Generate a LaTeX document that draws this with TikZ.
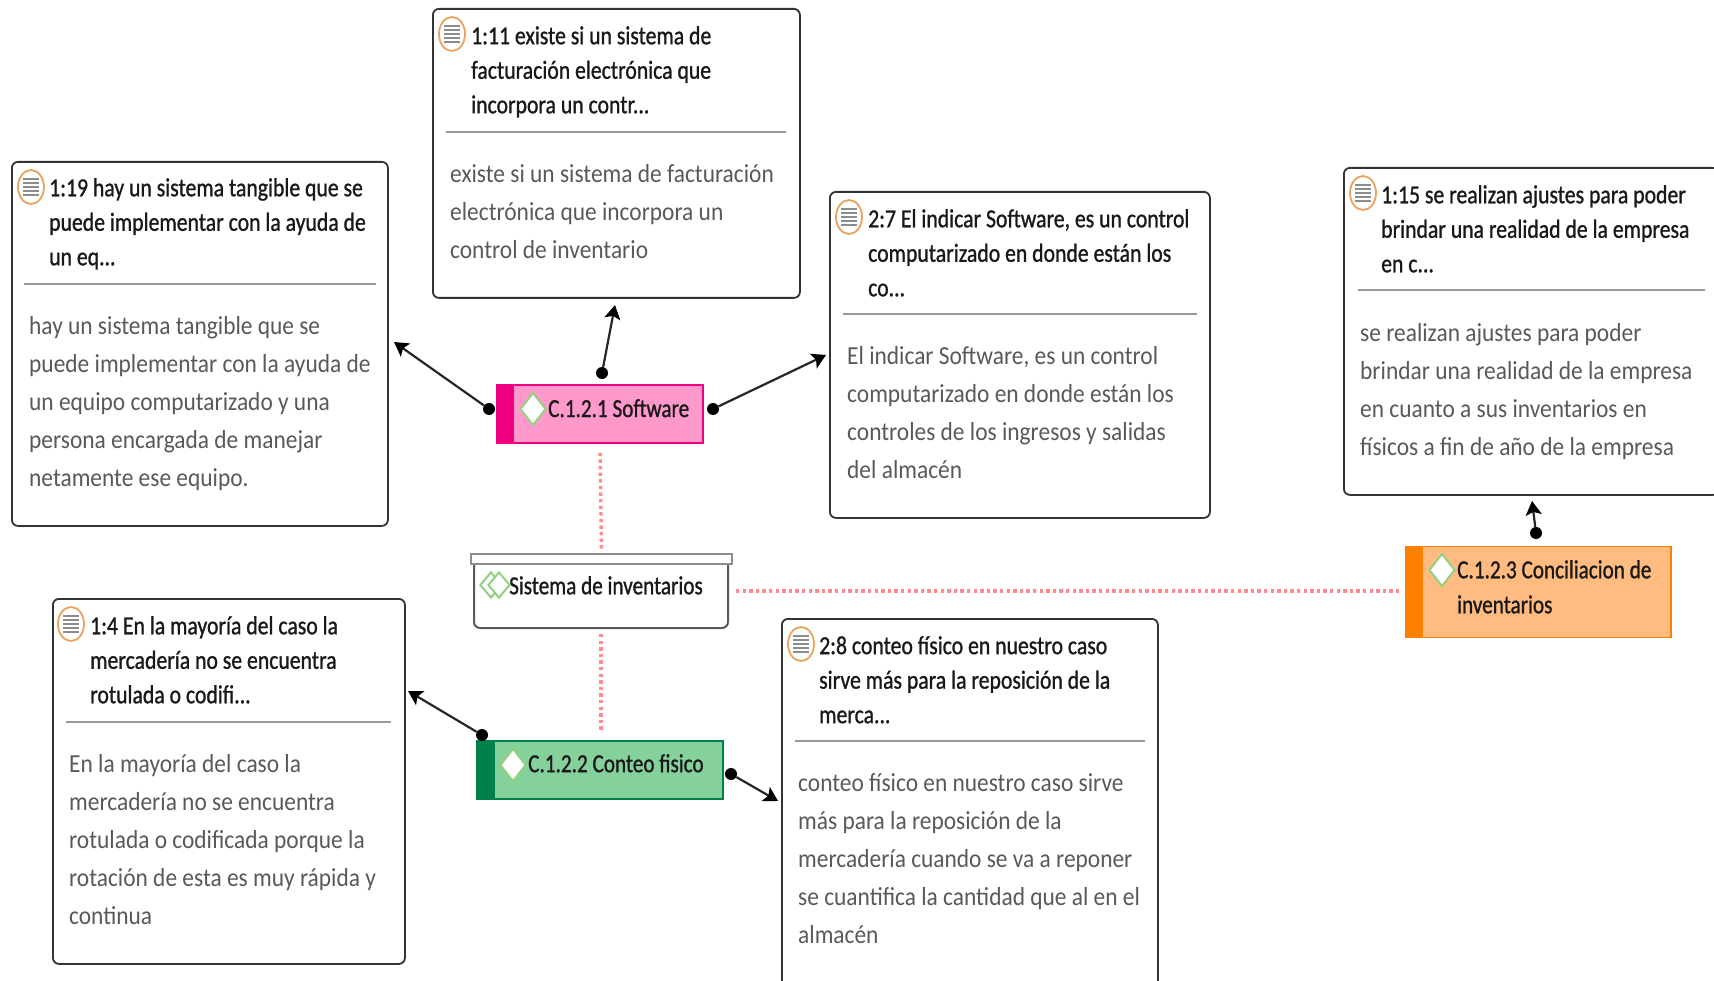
\documentclass[tikz,border=0pt]{standalone}
\usepackage{fontspec}
\setmainfont{Carlito}
\newfontfamily\titlefont[FakeStretch=0.835,FakeBold=1]{Carlito}
\newfontfamily\bodyfont[FakeStretch=0.90]{Carlito}
\newfontfamily\codefont[FakeStretch=0.815,FakeBold=1]{Carlito}
\usetikzlibrary{arrows.meta,shapes.geometric}
\definecolor{softfill}{HTML}{FF99CC}
\definecolor{softband}{HTML}{F0007F}
\definecolor{contfill}{HTML}{85D19B}
\definecolor{contband}{HTML}{00804A}
\definecolor{concfill}{HTML}{FFBB80}
\definecolor{concband}{HTML}{FF8000}
\definecolor{markgreen}{HTML}{93D07F}
\definecolor{dotred}{HTML}{FF8A8F}
\definecolor{noteorange}{HTML}{EBA25C}
\tikzset{
  quotebox/.style={draw=black!80,line width=1.8pt,rounded corners=6pt,fill=white,inner sep=0pt,anchor=north west},
  quotetitle/.style={anchor=north west,inner sep=0pt,align=left,text=black!90,font=\titlefont\fontsize{26}{34.5}\selectfont},
  quotebody/.style={anchor=north west,inner sep=0pt,align=left,text=black!65,font=\bodyfont\fontsize{26}{38}\selectfont},
  sepline/.style={draw=black!40,line width=1.6pt},
  codebox/.style={rectangle,draw,line width=1.6pt,inner sep=0pt},
  codetext/.style={anchor=north west,inner sep=0pt,align=left,text=black!90,font=\codefont\fontsize{26}{35}\selectfont},
  codemark/.style={diamond,draw=markgreen,fill=white,line width=2pt,inner sep=0pt,minimum width=26pt,minimum height=33pt},
  linkdot/.style={circle,fill=black,inner sep=0pt,minimum size=12pt},
  link/.style={draw=black!85,line width=2.2pt,-{Stealth[length=14pt,width=16pt,inset=3pt,black]}},
  relation/.style={draw=dotred,line width=3.4pt,dash pattern=on 3.4pt off 3.2pt},
  noteicon/.pic={
    \draw[draw=noteorange,line width=1.8pt,fill=white] (0,0) ellipse (13pt and 17pt);
    \foreach \yy in {-8,-4,0,4,8}
      \draw[black!45,line width=1.4pt] (-8,\yy) -- (8,\yy);
  }
}
\begin{document}
\begin{tikzpicture}[x=1pt,y=-1pt]
\useasboundingbox (0,0) rectangle (1714,981);

\begin{scope}[shift={(11,161)}]
  \node[quotebox,minimum width=376pt,minimum height=364pt] (q119) at (0,0) {};
  \pic at (20,26) {noteicon};
  \node[quotetitle] (q119title) at (38,17) {1:19 hay un sistema tangible que se\\puede implementar con la ayuda de\\un eq...};
  \draw[sepline] (13,123) -- (365,123);
  \node[quotebody] (q119text) at (18,155) {hay un sistema tangible que se\\puede implementar con la ayuda de\\un equipo computarizado y una\\persona encargada de manejar\\netamente ese equipo.};
\end{scope}

\begin{scope}[shift={(432,8)}]
  \node[quotebox,minimum width=367pt,minimum height=289pt] (q111) at (0,0) {};
  \pic at (20,26) {noteicon};
  \node[quotetitle] (q111title) at (39,18) {1:11 existe si un sistema de\\facturación electrónica que\\incorpora un contr...};
  \draw[sepline] (14,124) -- (354,124);
  \node[quotebody] (q111text) at (18,156) {existe si un sistema de facturación\\electrónica que incorpora un\\control de inventario};
\end{scope}

\begin{scope}[shift={(829,191)}]
  \node[quotebox,minimum width=380pt,minimum height=326pt] (q27) at (0,0) {};
  \pic at (20,26) {noteicon};
  \node[quotetitle] (q27title) at (39,18) {2:7 El indicar Software, es un control\\computarizado en donde están los\\co...};
  \draw[sepline] (14,123) -- (368,123);
  \node[quotebody] (q27text) at (18,155) {El indicar Software, es un control\\computarizado en donde están los\\controles de los ingresos y salidas\\del almacén};
\end{scope}

\begin{scope}[shift={(1343,167)}]
  \node[quotebox,minimum width=375pt,minimum height=327pt] (q115) at (0,0) {};
  \pic at (20,26) {noteicon};
  \node[quotetitle] (q115title) at (38,18) {1:15 se realizan ajustes para poder\\brindar una realidad de la empresa\\en c...};
  \draw[sepline] (15,123) -- (362,123);
  \node[quotebody] (q115text) at (17,156) {se realizan ajustes para poder\\brindar una realidad de la empresa\\en cuanto a sus inventarios en\\físicos a fin de año de la empresa};
\end{scope}

\begin{scope}[shift={(52,598)}]
  \node[quotebox,minimum width=352pt,minimum height=365pt] (q14) at (0,0) {};
  \pic at (19,26) {noteicon};
  \node[quotetitle] (q14title) at (38,18) {1:4 En la mayoría del caso la\\mercadería no se encuentra\\rotulada o codifi...};
  \draw[sepline] (14,124) -- (339,124);
  \node[quotebody] (q14text) at (17,156) {En la mayoría del caso la\\mercadería no se encuentra\\rotulada o codificada porque la\\rotación de esta es muy rápida y\\continua};
\end{scope}

\begin{scope}[shift={(781,618)}]
  \node[quotebox,minimum width=376pt,minimum height=400pt] (q28) at (0,0) {};
  \pic at (20,26) {noteicon};
  \node[quotetitle] (q28title) at (38,18) {2:8 conteo físico en nuestro caso\\sirve más para la reposición de la\\merca...};
  \draw[sepline] (14,123) -- (364,123);
  \node[quotebody] (q28text) at (17,155) {conteo físico en nuestro caso sirve\\más para la reposición de la\\mercadería cuando se va a reponer\\se cuantifica la cantidad que al en el\\almacén};
\end{scope}

% codes
\node[codebox,draw=softband,fill=softfill,minimum width=206pt,minimum height=58pt] (soft) at (600,414) {};
\fill[softband] (soft.north west) rectangle (514,443);
\node[codemark] (softmark) at (533,409) {};
\node[codetext] (softtext) at (548,399) {C.1.2.1 Software};

\node[codebox,draw=contband,fill=contfill,minimum width=246pt,minimum height=58pt] (cont) at (600,770) {};
\fill[contband] (cont.north west) rectangle (495,799);
\node[codemark] (contmark) at (513,765) {};
\node[codetext] (conttext) at (528,754) {C.1.2.2 Conteo fisico};

\node[codebox,draw=concband,fill=concfill,minimum width=265pt,minimum height=91pt] (conc) at (1538.5,592) {};
\fill[concband] (conc.north west) rectangle (1423,638);
\node[codemark] (concmark) at (1442,570) {};
\node[codetext] (conctext) at (1457,560) {C.1.2.3 Conciliacion de\\inventarios};

% group
\node[draw=black!65,line width=2pt,fill=white,rounded corners=6pt,inner sep=0pt,minimum width=254pt,minimum height=74pt] (sis) at (601,591) {};
\node[draw=black!45,line width=2pt,fill=white,inner sep=0pt,minimum width=261pt,minimum height=10pt] (sistop) at (601.5,559) {};
\node[codemark,minimum width=22pt,minimum height=26pt] (sismarkb) at (491,585) {};
\node[codemark,minimum width=22pt,minimum height=26pt] (sismark) at (499,585) {};
\node[codetext] (sistext) at (509,576) {Sistema de inventarios};

% relations
\draw[relation,shorten <=9pt,shorten >=3pt] (soft.south) -- (sistop.north);
\draw[relation,shorten <=5pt,shorten >=9pt] (sis.south) -- (cont.north -| sis.south);
\draw[relation,shorten <=7pt,shorten >=4pt] (sis.east) -- (conc.west |- sis.east);

% links
\node[linkdot] (softW) at (489,409) {};
\node[linkdot] (softN) at (602,373) {};
\node[linkdot] (softE) at (713,409) {};
\node[linkdot] (concN) at (1536,533) {};
\node[linkdot] (contW) at (482,735) {};
\node[linkdot] (contE) at (731,774) {};
\coordinate (tip119) at (394,342);
\coordinate (tip111) at (615,305);
\coordinate (tip27) at (826,355);
\coordinate (tip115) at (1532,501);
\coordinate (tip14) at (408,691);
\coordinate (tip28) at (778,801);
\draw[link] (softW) -- (tip119);
\draw[link] (softN) -- (tip111);
\draw[link] (softE) -- (tip27);
\draw[link] (concN) -- (tip115);
\draw[link] (contW) -- (tip14);
\draw[link] (contE) -- (tip28);
\end{tikzpicture}
\end{document}
